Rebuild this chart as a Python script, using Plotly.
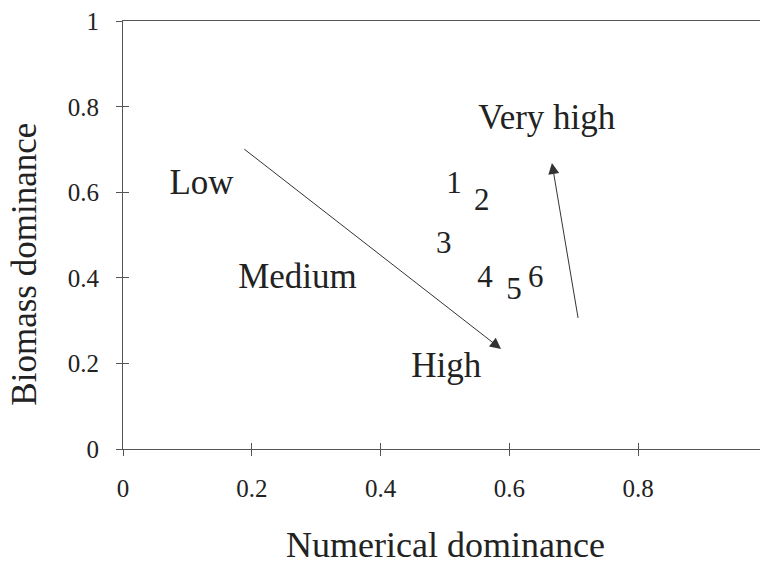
import plotly.graph_objects as go

# Region labels
region_labels = ["Low", "Medium", "High", "Very high"]
region_x = [0.122, 0.271, 0.502, 0.658]
region_y = [0.616, 0.396, 0.190, 0.769]

# Numbered sites
site_labels = ["1", "2", "3", "4", "5", "6"]
site_x = [0.514, 0.557, 0.498, 0.562, 0.607, 0.641]
site_y = [0.616, 0.576, 0.477, 0.396, 0.368, 0.398]

# Arrows: tail -> head
arrow_tail_x = [0.186, 0.707]
arrow_tail_y = [0.704, 0.303]
arrow_head_x = [0.587, 0.666]
arrow_head_y = [0.234, 0.669]

tick_vals = [0, 0.2, 0.4, 0.6, 0.8, 1]
tick_text = ["0", "0.2", "0.4", "0.6", "0.8", "1"]

FONT = "Liberation Serif"
TXT = "#222222"
AX = "#555555"

fig = go.Figure()

fig.add_trace(go.Scatter(x=site_x, y=site_y, mode="text", text=site_labels,
                         textfont=dict(family=FONT, size=31, color=TXT),
                         textposition="middle center", hoverinfo="skip",
                         showlegend=False))

fig.add_trace(go.Scatter(x=region_x, y=region_y, mode="text", text=region_labels,
                         textfont=dict(family=FONT, size=35, color=TXT),
                         textposition="middle center", hoverinfo="skip",
                         showlegend=False))

# dummy trace on overlay axes for inside ticks
fig.add_trace(go.Scatter(x=[0, 1], y=[0, 1], mode="markers", marker=dict(opacity=0),
                         xaxis="x2", yaxis="y2", hoverinfo="skip", showlegend=False))

annotations = []
for tx, ty, hx, hy in zip(arrow_tail_x, arrow_tail_y, arrow_head_x, arrow_head_y):
    annotations.append(dict(x=hx, y=hy, ax=tx, ay=ty, xref="x", yref="y",
                            axref="x", ayref="y", text="", showarrow=True,
                            arrowhead=2, arrowsize=2.2, arrowwidth=1,
                            arrowcolor="#333333", standoff=0, startstandoff=0))

annotations.append(dict(text="Numerical dominance", xref="paper", yref="paper",
                        x=0.5, y=-0.224, xanchor="center", yanchor="middle",
                        showarrow=False, font=dict(family=FONT, size=36, color=TXT)))
annotations.append(dict(text="Biomass dominance", xref="paper", yref="paper",
                        x=-0.152, y=0.433, xanchor="center", yanchor="middle",
                        textangle=-90, showarrow=False,
                        font=dict(family=FONT, size=35, color=TXT)))

axis_common = dict(tickvals=tick_vals, ticktext=tick_text,
                   showgrid=False, zeroline=False, showline=True,
                   linecolor=AX, linewidth=1, ticks="outside", ticklen=6,
                   tickcolor=AX, tickwidth=1,
                   tickfont=dict(family=FONT, size=25, color=TXT))

# page body has an 8px default margin; size the figure to fill the window
fig.update_layout(
    width=760, height=559,
    margin=dict(l=115, r=0, t=6, b=118),
    paper_bgcolor="white", plot_bgcolor="white",
    showlegend=False,
    xaxis=dict(**axis_common, range=[0, 1.0015], mirror=True, ticklabelstandoff=11),
    yaxis=dict(**axis_common, range=[0, 1.001], ticklabelstandoff=12,
               ticklabeloverflow="allow"),
    xaxis2=dict(range=[0, 1.0015], tickvals=tick_vals, overlaying="x", showticklabels=False,
                showgrid=False, zeroline=False, showline=False, ticks="inside",
                ticklen=6, tickcolor=AX, tickwidth=1, side="bottom"),
    yaxis2=dict(range=[0, 1.001], tickvals=tick_vals[:-1], overlaying="y", showticklabels=False,
                showgrid=False, zeroline=False, showline=False, ticks="inside",
                ticklen=6, tickcolor=AX, tickwidth=1, side="left"),
    annotations=annotations,
)

fig.write_html("out.html")
